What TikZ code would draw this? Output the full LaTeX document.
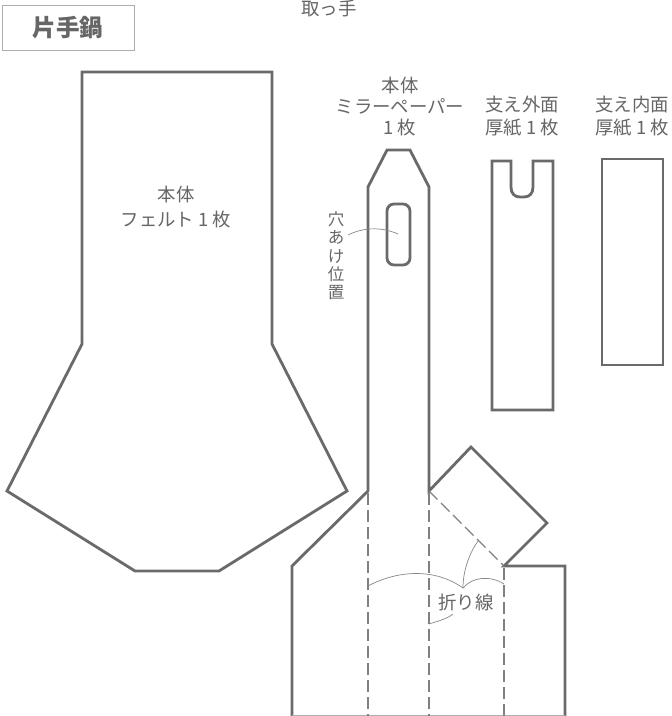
\documentclass[tikz,border=0pt]{standalone}
\usepackage{fontspec}
\setmainfont{Noto Sans CJK JP}
\definecolor{ink}{HTML}{6A6A6A}
\definecolor{txt}{HTML}{666666}
\tikzset{
  outline/.style={draw=ink,line width=2.8pt,line join=miter},
  foldline/.style={draw=ink!85,line width=1.1pt,dash pattern=on 12pt off 5pt},
  leader/.style={draw=ink!80,line width=0.7pt},
  lab/.style={text=txt,font=\fontsize{18.4}{23}\selectfont,align=center,inner sep=0pt},
}
\begin{document}
\begin{tikzpicture}[x=1pt,y=-1pt]
\useasboundingbox (0,0) rectangle (672,716);
\fill[white] (0,0) rectangle (672,716);
\node[draw=ink!55,line width=1pt,minimum width=132pt,minimum height=45pt,inner sep=0pt,anchor=center,text=txt,font=\fontsize{23.6}{23.6}\selectfont\bfseries] (title) at (68,27.5) {片手鍋};
\node[lab] (handle) at (329,8) {取っ手};
\node[lab,font=\fontsize{18.4}{25}\selectfont] (felt) at (176,207) {本体\\フェルト 1 枚};
\node[lab,font=\fontsize{18.4}{21}\selectfont] (mirror) at (400,106.5) {本体\\ミラーペーパー\\1 枚};
\node[lab] (outer) at (522,116) {支え外面\\厚紙 1 枚};
\node[lab] (inner) at (632,116) {支え内面\\厚紙 1 枚};
\node[lab,font=\fontsize{16.5}{18.3}\selectfont] (hole) at (336,256) {穴\\あ\\け\\位\\置};
\node[lab] (fold) at (466,602) {折り線};
% felt body
\draw[outline] (82,72) -- (272,72) -- (272,344) -- (347,491) -- (219,571) -- (135,571) -- (7,491) -- (82,344) -- cycle;
% mirror body
\draw[outline] (292,716) -- (292,566) -- (368,491) -- (368,187) -- (387,150) -- (410,150) -- (429,187) -- (429,491) -- (471,447) -- (547,523) -- (504,566) -- (565,566) -- (565,716);
\draw[draw=ink!55,line width=1pt] (292,715.5) -- (565,715.5);
\draw[outline,rounded corners=7pt] (387,204) rectangle (410,265);
% fold lines
\draw[foldline] (368,493) -- (368,716);
\draw[foldline] (429,493) -- (429,716);
\draw[foldline] (504,568) -- (504,716);
\draw[foldline] (429,491) -- (504,566);
% supports
\draw[outline] (492,161) -- (511,161) -- (511,187) .. controls (511,193) and (514,197) .. (520,197) -- (524,197) .. controls (530,197) and (533,193) .. (533,187) -- (533,161) -- (553,161) -- (553,410) -- (492,410) -- cycle;
\draw[outline] (602,159) rectangle (663,365);
% leaders
\draw[leader] (348,235) .. controls (362,228) and (380,226) .. (398,234);
\draw[leader] (368,586) .. controls (398,570) and (435,568) .. (463,588);
\draw[leader] (463,588) .. controls (472,577) and (490,575) .. (504,584);
\draw[leader] (463,588) .. controls (463,570) and (470,552) .. (478,541);
\draw[leader] (429,624) .. controls (438,621) and (447,619) .. (453,614);
\end{tikzpicture}
\end{document}
